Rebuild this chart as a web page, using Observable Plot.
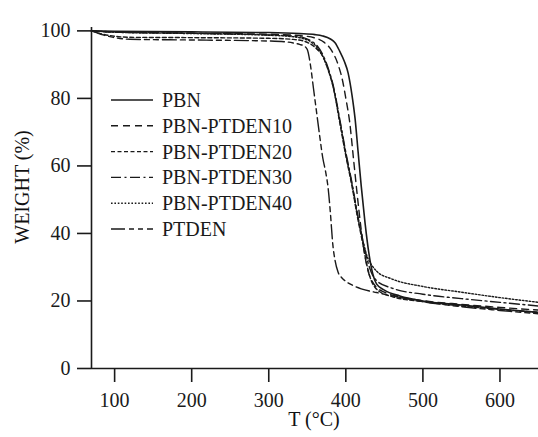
<!DOCTYPE html>
<html><head><meta charset="utf-8">
<script src="https://cdn.jsdelivr.net/npm/d3@7"></script>
<script src="https://cdn.jsdelivr.net/npm/@observablehq/plot@0.6"></script>
<style>
body{margin:0;background:#fff;}
#wrap{position:relative;width:538px;height:437px;font-family:"Liberation Serif","Times New Roman",serif;color:#111;}
#wrap svg{display:block;}
.abs{position:absolute;}
</style></head><body><div id="wrap"></div>
<script>
// ---- data ----
const seriesNames = ["PBN","PBN-PTDEN10","PBN-PTDEN20","PBN-PTDEN30","PBN-PTDEN40","PTDEN"];
const seriesDash  = ["none","7,5","4,2.5","10,3.5,2,3.5","1.6,1.8","14,4,5,4,5,4"];

const pbnT = [70,100,200,300,340,360,370,380,386,392,398,403,408,412,416,420,425,430,435,440,450,470,500,550,600,650];
const pbnW = [100,99.9,99.7,99.5,99.2,98.9,98.5,97.6,96.5,94,91,87.5,81,74,64,54,43,34,28,25,23.2,21.5,20,18.8,17.6,16.6];

const p10T = [70,100,200,300,340,360,372,382,390,396,400,405,410,415,420,425,430,435,440,450,470,500,550,600,650];
const p10W = [100,99.6,99.3,99.0,98.6,97.9,96.6,94,90,85,80,73,62,51,41,33,28,25.5,24,22.6,21.2,20.1,19,18.1,17.3];

const p20T = [70,85,100,120,200,300,330,345,355,363,370,377,384,392,400,408,415,422,428,433,438,445,460,500,550,600,650];
const p20W = [100,99,98.4,98.1,98,97.8,97.5,97,96,94.5,92.5,88.5,83,73,63,54,45,37,30,26,24,22.6,21.3,19.8,18.5,17.5,16.6];

const p30T = [70,100,200,300,330,345,355,363,370,377,384,392,400,408,415,422,428,433,440,460,500,550,600,650];
const p30W = [100,99.7,99.3,98.8,98.5,98,97,95.5,93,89,83.5,74,64,55,46,38,32,28.5,26,23.8,22,20.7,19.6,18.5];

const p40T = [70,100,200,300,330,345,355,363,370,377,384,392,400,408,415,422,428,434,440,460,500,550,600,650];
const p40W = [100,99.6,99.2,98.7,98.3,97.7,96.7,95,92.5,88.5,83,73.5,63.5,54.5,45.5,38,33,30.5,28.8,26.5,24.3,22.6,21,19.6];

const ptdT = [70,85,100,120,200,300,320,332,340,346,350,354,358,362,366,370,374,377,380,383,386,390,395,400,410,420,440,460,500,550,600,650];
const ptdW = [100,98.8,98,97.5,97.3,97,96.8,96.4,96,95.5,94.5,90,83,76,69,62.5,58,53.5,46,37,32,28.5,26.8,25.8,24.5,23.6,22.5,21.5,19.8,18.3,17.2,16.2];

const xTicks = [100,200,300,400,500,600];
const yTicks = [0,20,40,60,80,100];
const xLabel = "T (°C)";
const yLabel = "WEIGHT (%)";

const seriesT = [pbnT,p10T,p20T,p30T,p40T,ptdT];
const seriesW = [pbnW,p10W,p20W,p30W,p40W,ptdW];
const series = seriesNames.map((name,i)=>({
  name, dash: seriesDash[i],
  rows: seriesT[i].map((t,j)=>({T:t, W:seriesW[i][j]}))
}));

const ink = "#1a1a1a";
const chart = Plot.plot({
  width: 538, height: 437,
  marginLeft: 91, marginRight: 0, marginTop: 27, marginBottom: 69,
  style: {fontFamily: '"Liberation Serif","Times New Roman",serif', fontSize: "20px", color: ink, background: "white"},
  x: {domain: [70, 650]},
  y: {domain: [0, 101]},
  marks: [
    ...series.map(s => Plot.line(s.rows, {x:"T", y:"W", stroke: ink, strokeWidth: s.dash==="none"?1.6:1.4,
      strokeDasharray: s.dash==="none"?null:s.dash, curve:"monotone-x"})),
    Plot.ruleY([0], {stroke: ink, strokeWidth: 1.6}),
    Plot.ruleX([70], {stroke: ink, strokeWidth: 1.6}),
    Plot.axisX({ticks: xTicks, tickSize: 14, tickPadding: 10, label: null, strokeWidth: 1.6, stroke: ink, fill: ink}),
    Plot.axisY({ticks: yTicks, tickSize: 14, tickPadding: 7, label: null, strokeWidth: 1.6, stroke: ink, fill: ink})
  ]
});
const wrap = document.getElementById("wrap");
wrap.appendChild(chart);

// axis titles
const xl = document.createElement("div");
xl.className = "abs"; xl.textContent = xLabel;
Object.assign(xl.style,{left:"314px",top:"419px",transform:"translate(-50%,-50%)",fontSize:"20px",whiteSpace:"nowrap"});
wrap.appendChild(xl);
const yl = document.createElement("div");
yl.className = "abs"; yl.textContent = yLabel;
Object.assign(yl.style,{left:"22px",top:"187px",transform:"translate(-50%,-50%) rotate(-90deg)",fontSize:"20px",whiteSpace:"nowrap"});
wrap.appendChild(yl);

// legend
const lg = d3.select(wrap).append("svg").attr("class","abs")
  .attr("width",300).attr("height",200).style("left","100px").style("top","80px")
  .style("font-family",'"Liberation Serif","Times New Roman",serif').style("font-size","20px");
series.forEach((s,i)=>{
  const y = 20 + i*25.8;
  lg.append("line").attr("x1",11).attr("x2",53).attr("y1",y).attr("y2",y)
    .attr("stroke",ink).attr("stroke-width",s.dash==="none"?1.6:1.4)
    .attr("stroke-dasharray",s.dash==="none"?null:s.dash);
  lg.append("text").attr("x",62).attr("y",y).attr("dy","0.35em").attr("fill",ink).text(s.name);
});
</script></body></html>
